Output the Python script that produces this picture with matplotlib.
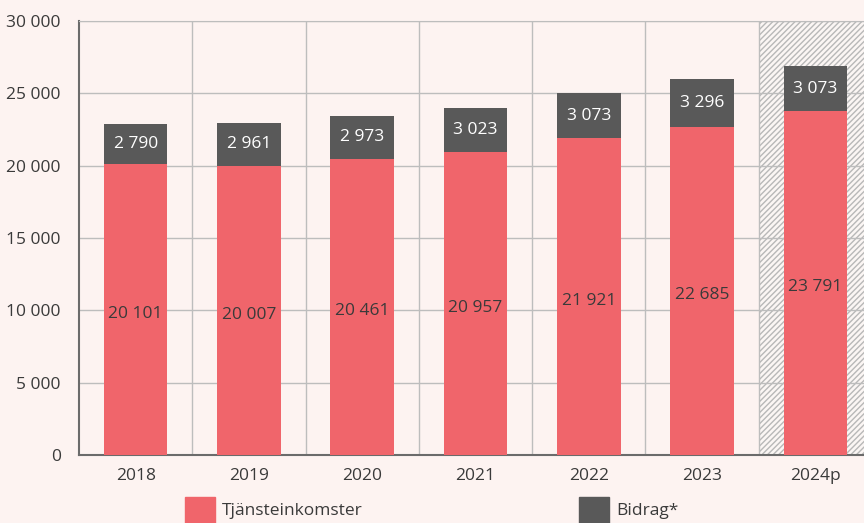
import matplotlib.pyplot as plt
from matplotlib.patches import Patch
from matplotlib.ticker import FuncFormatter

# data
years = ['2018', '2019', '2020', '2021', '2022', '2023', '2024p']
tjanst = [20101, 20007, 20461, 20957, 21921, 22685, 23791]
bidrag = [2790, 2961, 2973, 3023, 3073, 3296, 3073]

red = '#f0656b'
dark = '#595959'
bg = '#fdf3f1'
grid = '#bdbdbd'
txt = '#3a3a3a'
fs = 12.5

plt.rcParams['font.family'] = ['Open Sans', 'DejaVu Sans']

def fmt(v):
    return f'{int(v):,}'.replace(',', ' ')

fig = plt.figure(figsize=(8.64, 5.23), dpi=100, facecolor=bg)
W, H = 864, 523
ax = fig.add_axes([79 / W, 1 - 455 / H, (872 - 79) / W, (455 - 21) / H])
ax.set_facecolor(bg)

x = range(len(years))
# hatched forecast column
ax.axvspan(5.5, 6.5, facecolor='#fbf6f4', edgecolor='#b8b8b8', hatch='//////', lw=0, zorder=0)

ax.bar(x, tjanst, width=0.56, color=red, zorder=3)
ax.bar(x, bidrag, width=0.56, bottom=tjanst, color=dark, zorder=3)

for i in x:
    ax.text(i, tjanst[i] / 2 - 300, fmt(tjanst[i]), ha='center', va='center', fontsize=fs, color=txt, zorder=4)
    ax.text(i, tjanst[i] + bidrag[i] / 2, fmt(bidrag[i]), ha='center', va='center', fontsize=fs, color='white', zorder=4)

ax.set_xlim(-0.5, 6.5)
ax.set_ylim(0, 30000)
ax.set_yticks(range(0, 30001, 5000))
ax.yaxis.set_major_formatter(FuncFormatter(lambda v, p: fmt(v)))
ax.set_xticks(list(x))
ax.set_xticklabels(years)
ax.tick_params(length=0, labelsize=fs, colors=txt)
ax.tick_params(axis='y', pad=13)
ax.tick_params(axis='x', pad=9)

ax.grid(axis='y', color=grid, lw=1, zorder=1)
for b in [0.5, 1.5, 2.5, 3.5, 4.5, 5.5]:
    ax.axvline(b, color=grid, lw=1, zorder=1)

ax.spines['right'].set_visible(False)
ax.spines['top'].set_color(grid)
ax.spines['left'].set_color('#6b6b6b')
ax.spines['bottom'].set_color('#6b6b6b')
ax.spines['left'].set_linewidth(1.5)
ax.spines['bottom'].set_linewidth(1.5)

leg_kw = dict(frameon=False, fontsize=fs, handlelength=1.7, handleheight=1.9,
              handletextpad=0.45, borderpad=0, borderaxespad=0, labelcolor=txt, loc='upper left')
fig.legend(handles=[Patch(color=red, label='Tjänsteinkomster')], bbox_to_anchor=(185 / W, 1 - 497 / H), **leg_kw)
fig.legend(handles=[Patch(color=dark, label='Bidrag*')], bbox_to_anchor=(579 / W, 1 - 497 / H), **leg_kw)

fig.savefig('out.png', dpi=100, facecolor=bg)
